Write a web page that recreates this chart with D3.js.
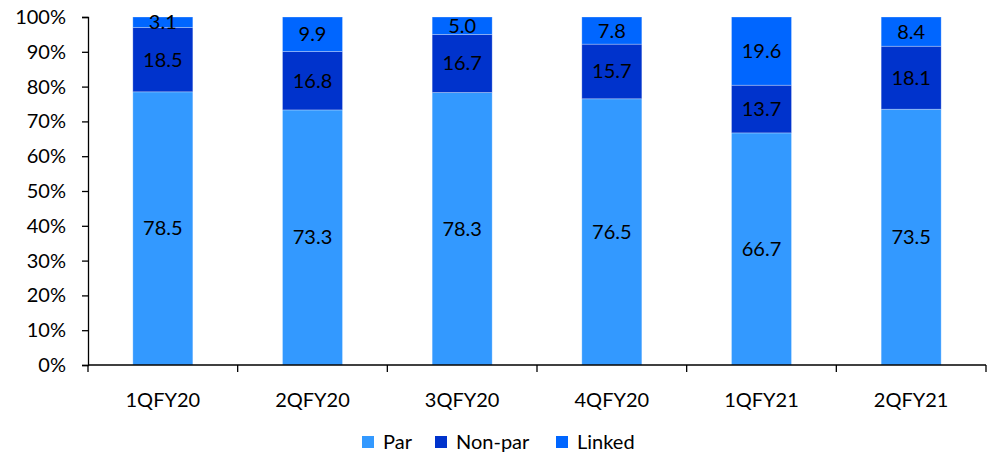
<!DOCTYPE html>
<html><head><meta charset="utf-8">
<script src="https://cdn.jsdelivr.net/npm/d3@7"></script>
<style>body{margin:0;background:#fff}svg{display:block}text{font-family:Lato,"Open Sans",sans-serif;fill:#000}</style>
</head><body><svg id="c" width="995" height="458"></svg>
<script>
const categories = ["1QFY20","2QFY20","3QFY20","4QFY20","1QFY21","2QFY21"];
const seriesNames = ["Par","Non-par","Linked"];
const par = [78.5,73.3,78.3,76.5,66.7,73.5];
const nonPar = [18.5,16.8,16.7,15.7,13.7,18.1];
const linked = [3.1,9.9,5.0,7.8,19.6,8.4];
const yTicks = [0,10,20,30,40,50,60,70,80,90,100];
const colors = ["#3399FF","#0033CC","#0066FF"];
const FS = "20px";

const svg = d3.select("#c");
const x = d3.scaleBand().domain(categories).range([88,986]).paddingInner(0).paddingOuter(0);
const y = d3.scaleLinear().domain([0,100]).range([365,17]);
const barW = 60;

const rows = categories.map((c,i)=>({cat:c, Par:par[i], "Non-par":nonPar[i], Linked:linked[i]}));
const stack = d3.stack().keys(seriesNames)(rows);

const g = svg.append("g");
stack.forEach((layer,li)=>{
  layer.forEach((d,i)=>{
    const x0 = x(categories[i]) + x.bandwidth()/2 - barW/2;
    const top = Math.max(y(Math.min(d[1],100)), y(100));
    g.append("rect").attr("x",x0).attr("width",barW)
      .attr("y",top).attr("height",y(d[0])-top)
      .attr("fill",colors[li]).attr("stroke","rgba(255,255,255,0.35)").attr("stroke-width",0.8);
  });
});
stack.forEach((layer,li)=>{
  layer.forEach((d,i)=>{
    const v = d.data[seriesNames[li]];
    const top = Math.max(y(Math.min(d[1],100)), y(100));
    g.append("text").attr("x",x(categories[i])+x.bandwidth()/2)
      .attr("y",(top+y(d[0]))/2).attr("dy","0.35em").attr("text-anchor","middle")
      .style("font-size",FS).text(v.toFixed(1));
  });
});

// y axis
const ya = svg.append("g").attr("transform","translate(88,0)")
  .call(d3.axisLeft(y).tickValues(yTicks).tickSize(6).tickFormat(d=>d+"%"));
ya.selectAll("text").style("font-size",FS).attr("x",-22);
ya.select(".domain").attr("stroke","#000").attr("stroke-width",1.3);
ya.selectAll(".tick line").attr("stroke","#000").attr("stroke-width",1.3);

// x axis
const xa = svg.append("g").attr("transform","translate(0,365)");
xa.append("line").attr("x1",88).attr("x2",986).attr("y1",0).attr("y2",0).attr("stroke","#000").attr("stroke-width",1.3);
const bounds = categories.map(c=>x(c)).concat([x(categories[categories.length-1])+x.bandwidth()]);
xa.selectAll("line.tk").data(bounds).enter().append("line").attr("class","tk")
  .attr("x1",d=>d).attr("x2",d=>d).attr("y1",0).attr("y2",7).attr("stroke","#000").attr("stroke-width",1.3);
xa.selectAll("text").data(categories).enter().append("text")
  .attr("x",d=>x(d)+x.bandwidth()/2).attr("y",35).attr("dy","0.35em").attr("text-anchor","middle")
  .style("font-size",FS).text(d=>d);

// legend
const legX = [362,435,556];
const leg = svg.append("g");
seriesNames.forEach((n,i)=>{
  leg.append("rect").attr("x",legX[i]).attr("y",436).attr("width",12).attr("height",12).attr("fill",colors[i]);
  leg.append("text").attr("x",legX[i]+21).attr("y",442).attr("dy","0.35em").style("font-size",FS).text(n);
});
</script></body></html>
